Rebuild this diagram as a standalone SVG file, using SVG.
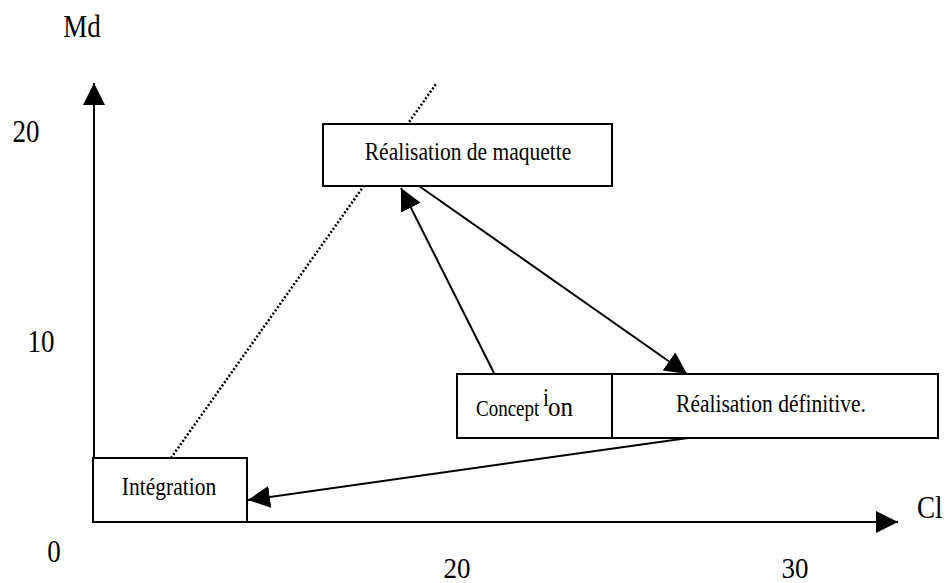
<svg xmlns="http://www.w3.org/2000/svg" width="946" height="583" viewBox="0 0 946 583">
<style>
.box{fill:#fff;stroke:#000;stroke-width:2}
.ln{fill:none;stroke:#000;stroke-width:2}
.dot{fill:none;stroke:#000;stroke-width:2.5;stroke-dasharray:2 2}
.lbl{font-family:"Liberation Serif","Times New Roman",serif;font-size:21.5px;fill:#000}
.ax{font-family:"Liberation Serif","Times New Roman",serif;font-size:27px;fill:#000}
</style>
<defs>
<marker id="ah" markerUnits="userSpaceOnUse" markerWidth="22" markerHeight="22" viewBox="0 0 22 22" refX="22" refY="11" orient="auto">
<path d="M0,0 L22,11 L0,22 z" fill="#000"/>
</marker>
</defs>
<g id="axes">
<line class="ln" x1="94" y1="522" x2="94" y2="83" marker-end="url(#ah)"/>
<line class="ln" x1="93" y1="522" x2="898" y2="522" marker-end="url(#ah)"/>
<text class="ax" text-anchor="middle" transform="translate(82,37) scale(1,1.15)">Md</text>
<text class="ax" text-anchor="middle" transform="translate(26,142) scale(1,1.15)">20</text>
<text class="ax" text-anchor="middle" transform="translate(41,352) scale(1,1.15)">10</text>
<text class="ax" text-anchor="middle" transform="translate(54,562) scale(1,1.15)">0</text>
<text class="ax" text-anchor="middle" transform="translate(457,578) scale(1,1.12)">20</text>
<text class="ax" text-anchor="middle" transform="translate(795,578) scale(1,1.12)">30</text>
<text class="ax" transform="translate(917,518) scale(1,1.15)">Cl</text>
</g>
<g id="connectors">
<line class="dot" x1="171" y1="458" x2="436" y2="84"/>
<line class="ln" x1="495" y1="375" x2="401" y2="188" marker-end="url(#ah)"/>
<line class="ln" x1="419" y1="186" x2="687" y2="374" marker-end="url(#ah)"/>
<line class="ln" x1="688" y1="438" x2="248" y2="500" marker-end="url(#ah)"/>
</g>
<g id="maquette">
<rect class="box" x="323" y="124" width="289" height="62"/>
<text class="lbl" text-anchor="middle" transform="translate(468,160) scale(1,1.2)">Réalisation de maquette</text>
</g>
<g id="conception">
<rect class="box" x="457" y="374" width="155" height="64"/>
<text class="lbl" style="font-size:19px" transform="translate(476,416) scale(1,1.2)">Concept</text>
<text class="lbl" transform="translate(543,406) scale(1,1.2)">i</text>
<text class="lbl" style="font-size:25px" transform="translate(548,416) scale(1,1.1)">on</text>
</g>
<g id="definitive">
<rect class="box" x="612" y="374" width="326" height="64"/>
<text class="lbl" text-anchor="middle" transform="translate(771,412) scale(1,1.2)">Réalisation définitive.</text>
</g>
<g id="integration">
<rect class="box" x="93" y="458" width="154" height="64"/>
<text class="lbl" text-anchor="middle" transform="translate(169,495) scale(1,1.2)">Intégration</text>
</g>
</svg>
